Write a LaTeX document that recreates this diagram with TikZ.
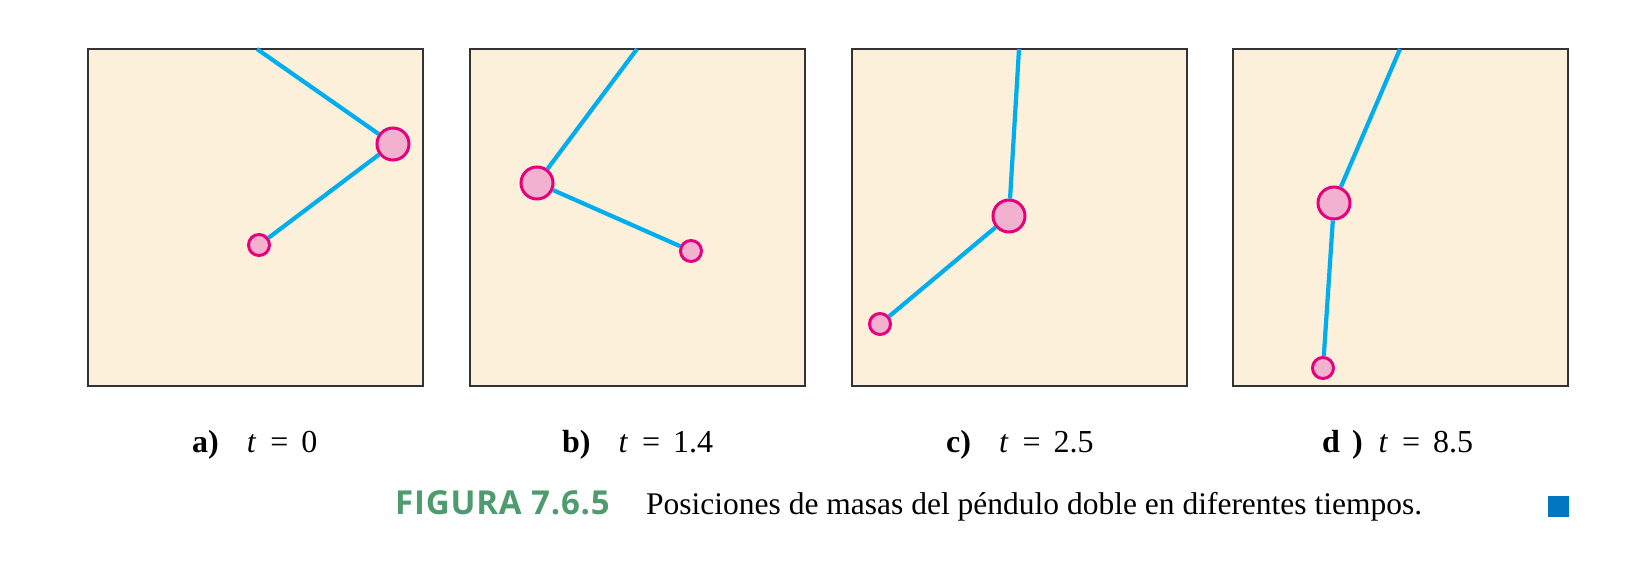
\documentclass[tikz,border=0pt]{standalone}
\usepackage{fontspec}
\setmainfont{Liberation Serif}
\newfontfamily\figfont[LetterSpace=2.5]{Open Sans}
\usetikzlibrary{positioning}

\definecolor{panelbg}{RGB}{252,240,218}
\definecolor{rodblue}{RGB}{0,174,239}
\definecolor{masspink}{RGB}{242,178,207}
\definecolor{massrim}{RGB}{230,0,126}
\definecolor{figgreen}{RGB}{78,155,110}
\definecolor{markblue}{RGB}{0,119,192}

\tikzset{
	panel/.style={fill=panelbg, draw=black!80, line width=2pt},
	rod/.style={draw=rodblue, line width=4.2pt},
	bigmass/.style={circle, fill=masspink, draw=massrim, line width=3pt, minimum size=32pt, inner sep=0pt},
	smallmass/.style={circle, fill=masspink, draw=massrim, line width=3pt, minimum size=21pt, inner sep=0pt},
	tlabel/.style={anchor=base west, inner sep=0pt, font=\fontsize{32}{37}\selectfont}
}

\begin{document}
\begin{tikzpicture}[x=1pt, y=-1pt]
	\useasboundingbox (0,0) rectangle (1639,573);

	% a) t = 0
	\draw[panel] (88,49) rectangle (423,386);
	\coordinate (pa) at (257,49);
	\node (ma1) [bigmass] at (393,144) {};
	\node (ma2) [smallmass] at (259,245) {};
	\draw[rod] (pa) -- (ma1);
	\draw[rod] (ma1) -- (ma2);
	\node (la) [tlabel] at (192,452) {\textbf{a)}\hspace{28pt}\textit{t}\hspace{14pt}=\hspace{13pt}0};

	% b) t = 1.4
	\draw[panel] (470,49) rectangle (805,386);
	\coordinate (pb) at (637,49);
	\node (mb1) [bigmass] at (537,183) {};
	\node (mb2) [smallmass] at (691,251) {};
	\draw[rod] (pb) -- (mb1);
	\draw[rod] (mb1) -- (mb2);
	\node (lb) [tlabel] at (562,452) {\textbf{b)}\hspace{28pt}\textit{t}\hspace{14pt}=\hspace{13pt}1.4};

	% c) t = 2.5
	\draw[panel] (852,49) rectangle (1187,386);
	\coordinate (pc) at (1019,49);
	\node (mc1) [bigmass] at (1009,216) {};
	\node (mc2) [smallmass] at (880,324) {};
	\draw[rod] (pc) -- (mc1);
	\draw[rod] (mc1) -- (mc2);
	\node (lc) [tlabel] at (946,452) {\textbf{c)}\hspace{28pt}\textit{t}\hspace{14pt}=\hspace{13pt}2.5};

	% d) t = 8.5
	\draw[panel] (1233,49) rectangle (1568,386);
	\coordinate (pd) at (1400,49);
	\node (md1) [bigmass] at (1334,203) {};
	\node (md2) [smallmass] at (1323,368) {};
	\draw[rod] (pd) -- (md1);
	\draw[rod] (md1) -- (md2);
	\node (ld) [tlabel] at (1322,452) {\textbf{d\hspace{12pt})}\hspace{16pt}\textit{t}\hspace{14pt}=\hspace{13pt}8.5};

	% caption
	\node (fig) [anchor=base west, inner sep=0pt, text=figgreen, font=\figfont\bfseries\fontsize{33}{38}\selectfont] at (395,514) {FIGURA 7.6.5};
	\node (cap) [anchor=base west, inner sep=0pt, font=\fontsize{31.5}{37}\selectfont] at (646,514) {Posiciones de masas del péndulo doble en diferentes tiempos.};
	\node (mark) [fill=markblue, minimum size=21pt, inner sep=0pt] at (1558,506) {};
\end{tikzpicture}
\end{document}
